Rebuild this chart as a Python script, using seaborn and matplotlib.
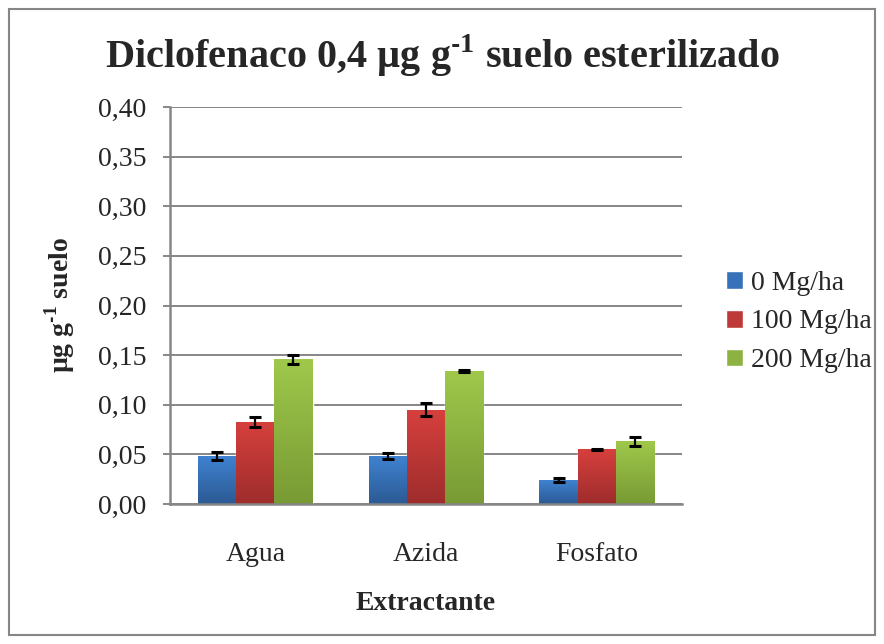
import numpy as np
import pandas as pd
import matplotlib
matplotlib.use("Agg")
import matplotlib.pyplot as plt
from matplotlib.colors import LinearSegmentedColormap
from matplotlib.patches import Rectangle
import seaborn as sns

# datos
extractantes = ["Agua", "Azida", "Fosfato"]
dosis = ["0 Mg/ha", "100 Mg/ha", "200 Mg/ha"]
val_0 = [0.048, 0.048, 0.024]
val_100 = [0.083, 0.095, 0.055]
val_200 = [0.146, 0.134, 0.063]
err_0 = [0.004, 0.003, 0.0017]
err_100 = [0.005, 0.0067, 0.0008]
err_200 = [0.0045, 0.0015, 0.0043]
y_ticks = [0.0, 0.05, 0.10, 0.15, 0.20, 0.25, 0.30, 0.35, 0.40]

colores = ["#3771BA", "#BE3A38", "#8DB241"]
grad_top = ["#3F82D0", "#D6403D", "#9FC84B"]
grad_bot = ["#2C5A94", "#9E2D2C", "#789A34"]
GRIS = "#868686"

df = pd.DataFrame({
    "Extractante": extractantes * 3,
    "Dosis": [d for d in dosis for _ in extractantes],
    "valor": val_0 + val_100 + val_200,
    "err": err_0 + err_100 + err_200,
})

sns.set_style("white")
plt.rcParams["font.family"] = ["Liberation Serif", "DejaVu Serif"]
plt.rcParams["mathtext.fontset"] = "custom"
plt.rcParams["mathtext.rm"] = "Liberation Serif"
plt.rcParams["mathtext.bf"] = "Liberation Serif:bold"

fig = plt.figure(figsize=(8.84, 6.44), dpi=100)
ax = fig.add_axes([170 / 884, 1 - 504 / 644, 512 / 884, 397 / 644])

sns.barplot(data=df, x="Extractante", y="valor", hue="Dosis", order=extractantes,
            hue_order=dosis, palette=colores, width=0.67, gap=0, errorbar=None,
            saturation=1, ax=ax)

# barras ordenadas por posicion: (extractante, dosis)
bars = sorted([p for p in ax.patches if p.get_height() > 0], key=lambda p: p.get_x())
xlim, ylim = ax.get_xlim(), (0, 0.40)
for i, p in enumerate(bars):
    k = i % 3
    x0, w, h = p.get_x(), p.get_width(), p.get_height()
    cmap = LinearSegmentedColormap.from_list("g", [grad_bot[k], grad_top[k]])
    im = ax.imshow(np.linspace(0, 1, 128).reshape(-1, 1), extent=[x0, x0 + w, 0, h],
                   origin="lower", cmap=cmap, aspect="auto", zorder=p.get_zorder() + 0.1)
    im.set_clip_path(p)
    fila = df[(df["Extractante"] == extractantes[i // 3]) & (df["Dosis"] == dosis[k])].iloc[0]
    ax.errorbar(x0 + w / 2, fila["valor"], yerr=fila["err"], fmt="none", ecolor="black",
                elinewidth=1.6, capsize=4, capthick=2.2, zorder=5)

ax.set_xlim(xlim)
ax.set_ylim(ylim)
ax.set_yticks(y_ticks)
ax.set_yticklabels([f"{t:.2f}".replace(".", ",") for t in y_ticks])
ax.set_axisbelow(True)
ax.yaxis.grid(True, color=GRIS, linewidth=1.4)
ax.xaxis.grid(False)
for s in ["top", "right"]:
    ax.spines[s].set_visible(False)
for s in ["left", "bottom"]:
    ax.spines[s].set_color(GRIS)
    ax.spines[s].set_linewidth(1.8)
ax.tick_params(axis="y", left=True, length=5, width=1.4, color=GRIS, pad=12, labelsize=20)
ax.tick_params(axis="x", bottom=False, pad=24, labelsize=20)

ax.set_xlabel("Extractante", fontsize=20, fontweight="bold", va="center")
ax.xaxis.set_label_coords(0.5, (504 - 603) / 397)
ax.set_ylabel("µg g$^{\\mathbf{\u20111}}$ suelo", fontsize=20, fontweight="bold", va="center")
ax.yaxis.set_label_coords((60 - 170) / 512, 0.5)

handles, labels = ax.get_legend_handles_labels()
ax.legend(handles, labels, loc="center left", bbox_to_anchor=(726 / 884, 1 - 322 / 644),
          bbox_transform=fig.transFigure, frameon=False, fontsize=20, handlelength=0.6,
          handleheight=0.6, handletextpad=0.3, labelspacing=0.5, borderpad=0, borderaxespad=0)

fig.text(0.5, 1 - 68 / 644, "Diclofenaco 0,4 µg g$^{\\mathbf{\u20111}}$ suelo esterilizado",
         ha="center", va="baseline", fontsize=29, fontweight="bold")

fig.patches.append(Rectangle((9 / 884, 9 / 644), 866 / 884, 626 / 644, transform=fig.transFigure,
                             fill=False, edgecolor=GRIS, linewidth=1.5))

fig.savefig("out.png", dpi=100)
